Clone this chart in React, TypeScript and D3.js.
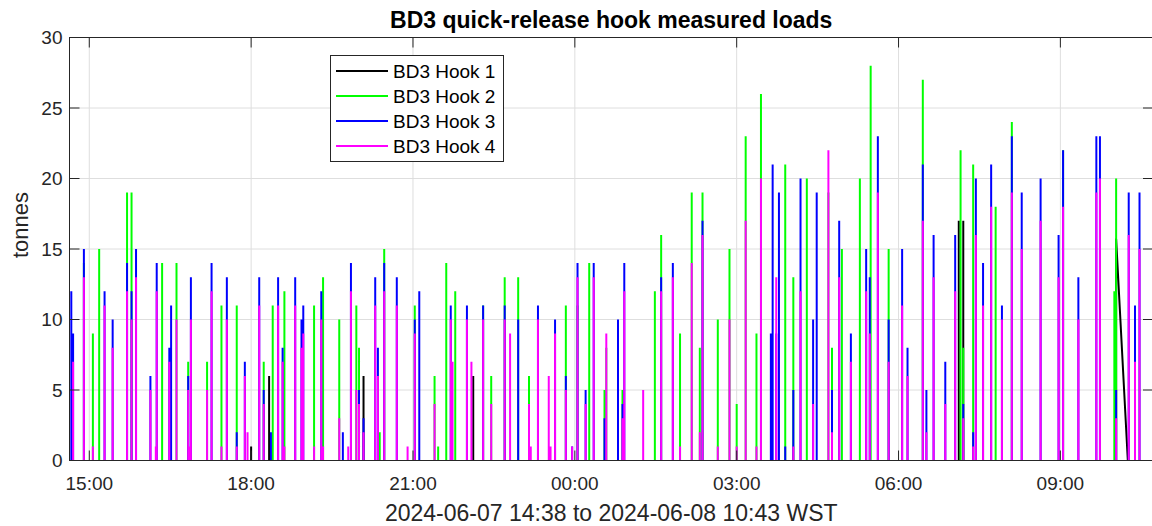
import React from "react";
import * as d3 from "d3";

// ---- data ----
// minutes after 2024-06-07 14:38 WST
const eventMinutes = [
  2, 4, 16, 26, 33, 39, 48, 64, 69, 74, 90, 96, 97, 103, 111, 113, 119, 132, 134, 135,
  153, 158, 169, 175, 186, 195, 198, 202, 211, 216, 222, 224, 226, 232, 237, 239, 251, 258, 260, 272,
  280, 282, 300, 304, 310, 313, 319, 322, 327, 340, 343, 345, 350, 364, 376, 384, 389, 406, 410, 419,
  424, 426, 429, 442, 447, 449, 460, 469, 484, 490, 499, 511, 513, 521, 533, 535, 540, 552, 559, 565,
  574, 578, 583, 595, 597, 610, 615, 617, 638, 651, 658, 671, 679, 692, 701, 704, 721, 734, 742, 752,
  764, 769, 780, 782, 786, 789, 796, 805, 813, 820, 827, 831, 844, 848, 856, 859, 869, 879, 886, 890,
  891, 899, 911, 926, 932, 949, 953, 961, 974, 985, 989, 991, 994, 1005, 1008, 1016, 1025, 1030, 1037, 1048,
  1059, 1080, 1100, 1105, 1122, 1142, 1146, 1162, 1164, 1178, 1185, 1190,
];
const hook1 = [
  0, 0, 0, 0, 0, 0, 0, 0, 0, 0, 0, 0, 0, 0, 0, 0, 0, 0, 0, 0,
  0, 0, 0, 0, 0, 0, 0, 1, 0, 0, 6, 0, 0, 0, 0, 0, 0, 0, 0, 0,
  0, 0, 0, 0, 0, 0, 0, 0, 6, 0, 0, 0, 0, 0, 0, 0, 0, 0, 0, 0,
  0, 0, 0, 0, 0, 6, 0, 0, 0, 0, 0, 0, 0, 0, 0, 0, 0, 0, 0, 0,
  0, 0, 0, 0, 0, 0, 0, 0, 0, 0, 0, 0, 0, 0, 0, 0, 0, 0, 0, 0,
  0, 0, 0, 0, 0, 0, 0, 0, 0, 0, 0, 0, 0, 0, 0, 0, 0, 0, 0, 0,
  0, 0, 0, 0, 0, 0, 0, 0, 0, 0, 17, 0, 17, 0, 0, 0, 0, 0, 0, 0,
  0, 0, 0, 0, 0, 0, 0, 0, 15.7, 0, 0, 0,
];
const hook2 = [
  0, 0, 14, 9, 15, 0, 0, 19, 19, 0, 0, 0, 0, 14, 0, 0, 14, 7, 0, 0,
  7, 0, 11, 0, 11, 0, 0, 0, 0, 7, 0, 0, 11, 0, 0, 12, 0, 0, 0, 11,
  0, 13, 10, 0, 0, 0, 11, 8, 0, 0, 0, 2, 15, 0, 0, 11, 0, 6, 1, 14,
  0, 0, 12, 0, 0, 0, 11, 6, 13, 0, 13, 6, 0, 0, 0, 0, 0, 11, 0, 11,
  0, 14, 0, 5, 8, 0, 5, 0, 0, 12, 16, 0, 9, 19, 8, 19, 10, 15, 4, 23,
  9, 26, 0, 0, 0, 0, 21, 13, 0, 20, 0, 0, 19, 8, 0, 15, 0, 20, 0, 0,
  28, 0, 15, 0, 0, 27, 0, 0, 0, 0, 0, 22, 8, 21, 0, 0, 0, 18, 0, 24,
  0, 0, 0, 22, 0, 0, 0, 12, 20, 0, 0, 0,
];
const hook3 = [
  12, 9, 15, 0, 0, 12, 10, 14, 12, 15, 6, 0, 14, 0, 8, 11, 0, 6, 0, 13,
  0, 14, 0, 13, 2, 7, 0, 0, 13, 5, 0, 2, 0, 13, 8, 0, 13, 10, 11, 0,
  12, 0, 0, 2, 0, 14, 0, 5, 3, 13, 8, 0, 14, 13, 0, 10, 12, 0, 0, 0,
  11, 0, 0, 11, 0, 0, 11, 0, 11, 0, 10, 0, 0, 11, 0, 0, 10, 6, 1, 14,
  5, 0, 14, 3, 0, 10, 4, 14, 0, 0, 13, 14, 0, 0, 0, 17, 0, 0, 0, 0,
  0, 0, 9, 21, 9, 19, 1, 5, 20, 0, 10, 19, 0, 5, 17, 0, 9, 0, 15, 13,
  0, 23, 10, 15, 8, 21, 5, 16, 7, 16, 0, 0, 4, 2, 20, 14, 21, 0, 11, 23,
  19, 20, 16, 22, 13, 23, 23, 0, 5, 19, 11, 19,
];
const hook4 = [
  0, 7, 13, 1, 0, 11, 8, 12, 10, 13, 5, 1, 12, 0, 7, 0, 10, 5, 1, 10,
  5, 12, 1, 10, 1, 6, 2, 0, 11, 4, 0, 0, 0, 11, 7, 1, 11, 8, 9, 1,
  10, 1, 3, 0, 1, 12, 5, 4, 2, 11, 6, 0, 12, 11, 1, 9, 0, 4, 0, 0,
  10, 7, 0, 10, 7, 0, 10, 4, 10, 9, 0, 4, 1, 10, 6, 1, 9, 5, 1, 13,
  4, 0, 13, 0, 9, 0, 3, 12, 5, 0, 12, 13, 1, 14, 2, 16, 1, 10, 1, 17,
  1, 20, 0, 0, 13, 0, 0, 1, 12, 0, 4, 0, 22, 2, 13, 0, 7, 0, 12, 9,
  0, 19, 7, 11, 6, 17, 2, 13, 4, 12, 0, 0, 3, 1, 16, 11, 18, 0, 10, 19,
  15, 17, 13, 18, 10, 19, 20, 0, 3, 16, 7, 15,
];
// hook 1's last reading falls back to zero only at this minute
const hook1TailEndMinute = 1177;

const seriesNames = ["BD3 Hook 1", "BD3 Hook 2", "BD3 Hook 3", "BD3 Hook 4"];
const seriesColors = ["#000000", "#00ff00", "#0000ff", "#ff00ff"];
const yTicks = [0, 5, 10, 15, 20, 25, 30];
const titleText = "BD3 quick-release hook measured loads";
const xLabelText = "2024-06-07 14:38 to 2024-06-08 10:43 WST";
const yLabelText = "tonnes";

const startTime = new Date(2024, 5, 7, 14, 38);
const endTime = new Date(2024, 5, 8, 10, 43);

const W = 1152;
const H = 526;
const L = 69.5;
const R = 1153;
const T = 37.5;
const B = 460.5;
const FONT = "'Liberation Sans', Arial, Helvetica, sans-serif";
const AX = "#262626";
const GRID = "#dedede";

const toDate = (m: number) => new Date(startTime.getTime() + m * 60000);

export default function App() {
  const x = d3.scaleTime().domain([startTime, endTime]).range([L, R]);
  const y = d3.scaleLinear().domain([0, 30]).range([B, T]);
  const xTicks = d3.timeHour.every(3)!.range(d3.timeMinute.offset(startTime, 1), endTime);
  const fmt = d3.timeFormat("%H:%M");

  const hooks = [hook1, hook2, hook3, hook4];
  const line = d3
    .line<[number, number] | null>()
    .defined((d) => d !== null)
    .x((d) => x(toDate(d![0])))
    .y((d) => y(d![1]));

  const lastHook1 = hook1.reduce((acc, v, i) => (v > 0 ? i : acc), -1);

  const paths = hooks.map((vals, k) => {
    const pts: ([number, number] | null)[] = [];
    vals.forEach((v, i) => {
      if (v <= 0) return;
      const t = eventMinutes[i];
      pts.push([t, 0], [t, v]);
      if (k === 0 && i === lastHook1) pts.push([hook1TailEndMinute, 0]);
      pts.push(null);
    });
    return line(pts) || "";
  });

  const tickLen = 10;
  const legendRows = [71, 96, 121, 146];

  return (
    <div style={{ position: "fixed", left: 0, top: 0 }}>
      <svg width={W} height={H} style={{ display: "block", background: "#fff" }}>
        <rect x={0} y={0} width={W} height={H} fill="#fff" />
        {/* grid */}
        {yTicks.map((v) => (
          <line key={"gy" + v} x1={L} x2={R} y1={y(v)} y2={y(v)} stroke={GRID} strokeWidth={1} />
        ))}
        {xTicks.map((d, i) => (
          <line key={"gx" + i} x1={x(d)} x2={x(d)} y1={T} y2={B} stroke={GRID} strokeWidth={1} />
        ))}
        {/* data */}
        <defs>
          <clipPath id="plotclip">
            <rect x={L} y={T} width={R - L} height={B - T} />
          </clipPath>
        </defs>
        <g clipPath="url(#plotclip)">
          {paths.map((p, k) => (
            <path key={"s" + k} d={p} fill="none" stroke={seriesColors[k]} strokeWidth={2} strokeLinejoin="round" />
          ))}
        </g>
        {/* axes box and ticks */}
        <rect x={L} y={T} width={R - L} height={B - T} fill="none" stroke={AX} strokeWidth={1} />
        {yTicks.map((v) => (
          <g key={"ty" + v}>
            <line x1={L} x2={L + tickLen} y1={y(v)} y2={y(v)} stroke={AX} />
            <line x1={R - tickLen} x2={R} y1={y(v)} y2={y(v)} stroke={AX} />
            <text x={L - 7} y={y(v)} textAnchor="end" dominantBaseline="central" fontFamily={FONT} fontSize={19} fill={AX}>
              {v}
            </text>
          </g>
        ))}
        {xTicks.map((d, i) => (
          <g key={"tx" + i}>
            <line x1={x(d)} x2={x(d)} y1={B} y2={B - tickLen} stroke={AX} />
            <line x1={x(d)} x2={x(d)} y1={T} y2={T + tickLen} stroke={AX} />
            <text x={x(d)} y={490} textAnchor="middle" fontFamily={FONT} fontSize={19} fill={AX}>
              {fmt(d)}
            </text>
          </g>
        ))}
        {/* labels */}
        <text x={(L + R) / 2} y={28} textAnchor="middle" fontFamily={FONT} fontSize={23} fontWeight="bold" fill="#000">
          {titleText}
        </text>
        <text x={(L + R) / 2} y={521} textAnchor="middle" fontFamily={FONT} fontSize={23} fill={AX}>
          {xLabelText}
        </text>
        <text
          transform={`translate(28,225) rotate(-90)`}
          textAnchor="middle"
          fontFamily={FONT}
          fontSize={22}
          fill={AX}
        >
          {yLabelText}
        </text>
        {/* legend */}
        <rect x={330.5} y={55.5} width={173} height={106} fill="#fff" stroke={AX} strokeWidth={1} />
        {seriesNames.map((n, k) => (
          <g key={"lg" + k}>
            <line x1={336} x2={388} y1={legendRows[k]} y2={legendRows[k]} stroke={seriesColors[k]} strokeWidth={2} />
            <text x={393} y={legendRows[k]} dominantBaseline="central" fontFamily={FONT} fontSize={19} fill="#000">
              {n}
            </text>
          </g>
        ))}
      </svg>
    </div>
  );
}
